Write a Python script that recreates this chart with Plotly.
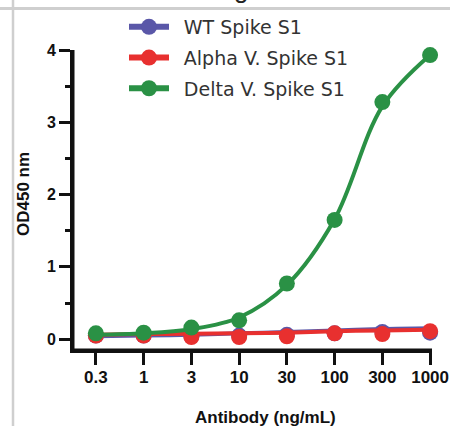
import plotly.graph_objects as go

x_labels = ["0.3", "1", "3", "10", "30", "100", "300", "1000"]

wt_points = [0.05, 0.05, 0.04, 0.05, 0.06, 0.08, 0.10, 0.09]
alpha_points = [0.05, 0.05, 0.03, 0.03, 0.04, 0.08, 0.07, 0.11]
delta_points = [0.08, 0.09, 0.16, 0.26, 0.77, 1.65, 3.28, 3.93]

wt_fit = [0.04, 0.05, 0.06, 0.08, 0.10, 0.12, 0.14, 0.15]
alpha_fit = [0.06, 0.07, 0.075, 0.08, 0.09, 0.11, 0.12, 0.13]
delta_fit = [0.06, 0.08, 0.14, 0.30, 0.75, 1.66, 3.22, 3.93]

series = [
    ("WT Spike S1", "#5a57a8", wt_points, wt_fit),
    ("Alpha V. Spike S1", "#e8302f", alpha_points, alpha_fit),
    ("Delta V. Spike S1", "#2a9145", delta_points, delta_fit),
]

x_title = "Antibody (ng/mL)"
y_title = "OD450 nm"

xi = list(range(len(x_labels)))

fig = go.Figure()
for name, color, pts, fit in series:
    fig.add_trace(go.Scatter(
        x=xi, y=fit, mode="lines", line=dict(color=color, width=4, shape="spline", smoothing=1.0),
        showlegend=False, hoverinfo="skip", cliponaxis=False))
    fig.add_trace(go.Scatter(
        x=xi, y=pts, mode="markers", marker=dict(color=color, size=16),
        showlegend=False, cliponaxis=False))
for name, color, pts, fit in series:
    fig.add_trace(go.Scatter(
        x=[None], y=[None], mode="lines+markers", name="\u00a0\u2009" + name, legendgroup=name,
        line=dict(color=color, width=6), marker=dict(color=color, size=16)))

AX = "#111111"
GR = "#cfcfcf"
PL, PR, PT, PB = 73, 18, 50, 76
PH = 426 - PT - PB
PW = 450 - PL - PR


def px(xp):
    return (xp - PL) / PW


def py(yp):
    return (PT + PH - yp) / PH


fig.update_layout(
    width=450, height=426,
    margin=dict(l=PL, r=PR, t=PT, b=PB, autoexpand=False),
    paper_bgcolor="white", plot_bgcolor="white",
    font=dict(family="Liberation Sans", color=AX),
    showlegend=True,
    legend=dict(x=px(124), y=py(8), xanchor="left", yanchor="top",
                font=dict(family="DejaVu Sans", size=19, color="#333333"),
                bgcolor="rgba(0,0,0,0)", tracegroupgap=3, itemwidth=40),
    xaxis=dict(
        range=[-0.48, 7.04], tickmode="array", tickvals=xi, ticktext=x_labels,
        showgrid=False, zeroline=False, showline=True, linecolor=AX, linewidth=3,
        ticks="outside", ticklen=12, tickwidth=3, tickcolor=AX,
        tickfont=dict(family="Liberation Sans", size=17, color=AX, weight="bold"),
        ticklabelstandoff=-2,
    ),
    yaxis=dict(
        range=[-0.15, 4.0], tickmode="array", tickvals=[0, 1, 2, 3, 4],
        showgrid=False, zeroline=False, showline=True, linecolor=AX, linewidth=3,
        ticks="outside", ticklen=11, tickwidth=3, tickcolor=AX,
        minor=dict(tickvals=[0.5, 1.5, 2.5, 3.5], ticks="outside", ticklen=5, tickwidth=3, tickcolor=AX, showgrid=False),
        tickfont=dict(family="Liberation Sans", size=16, color=AX, weight="bold"),
    ),
    shapes=[
        dict(type="line", xref="paper", yref="paper", x0=0, x1=1, y0=0, y1=0,
             line=dict(color=AX, width=3), layer="above"),
        dict(type="line", xref="paper", yref="paper", x0=0, x1=0, y0=0, y1=1,
             line=dict(color=AX, width=3), layer="above"),
        dict(type="line", xref="paper", yref="paper", x0=px(0), x1=px(450), y0=py(8.5), y1=py(8.5),
             line=dict(color=GR, width=3), layer="above"),
        dict(type="line", xref="paper", yref="paper", x0=px(13), x1=px(13),
             y0=py(426), y1=py(0), line=dict(color=GR, width=2.5), layer="above"),
    ],
    annotations=[
        dict(text="g", xref="paper", yref="paper", x=px(241), y=py(6),
             xanchor="center", yanchor="bottom", showarrow=False,
             font=dict(family="Liberation Sans", size=26, color="#222222")),
        dict(text="<b>" + x_title + "</b>", xref="paper", yref="paper", x=px(265), y=py(417),
             xanchor="center", yanchor="middle", showarrow=False,
             font=dict(family="Liberation Sans", size=17, color=AX)),
        dict(text="<b>" + y_title + "</b>", xref="paper", yref="paper", x=px(23), y=py(194),
             xanchor="center", yanchor="middle", showarrow=False, textangle=-90,
             font=dict(family="Liberation Sans", size=17, color=AX)),
    ],
)

fig.write_html(
    "out.html",
    config={"displayModeBar": False},
    post_script=(
        "document.body.style.margin='0';document.body.style.overflow='hidden';"
        "document.documentElement.style.overflow='hidden';"
        "var d=document.createElement('div');"
        "d.style.cssText='position:fixed;left:0;top:7px;width:450px;height:3px;"
        "background:#cfcfcf;z-index:9999;pointer-events:none';"
        "document.body.appendChild(d);"
    ),
)
